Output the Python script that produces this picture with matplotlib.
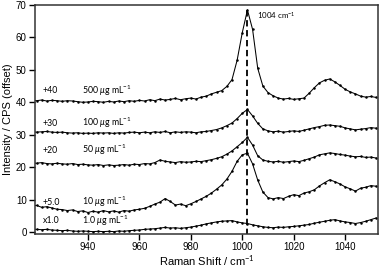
import matplotlib
matplotlib.use("Agg")
import matplotlib.pyplot as plt

# Raman shift grid (cm-1)
shift = [918, 920, 922, 924, 926, 928, 930, 932, 934, 936, 938, 940,
         942, 944, 946, 948, 950, 952, 954, 956, 958, 960, 962, 964,
         966, 968, 970, 972, 974, 976, 978, 980, 982, 984, 986, 988,
         990, 992, 994, 996, 998, 1000, 1002, 1004, 1006, 1008, 1010, 1012,
         1014, 1016, 1018, 1020, 1022, 1024, 1026, 1028, 1030, 1032, 1034, 1036,
         1038, 1040, 1042, 1044, 1046, 1048, 1050, 1052]

# spectra already offset as in the figure
c500 = [40.6, 40.5, 40.7, 40.4, 40.6, 40.5, 40.3, 40.5, 40.4, 40.2, 40.0, 40.1,
        40.3, 40.2, 40.0, 40.3, 40.1, 40.4, 40.2, 40.5, 40.3, 40.6, 40.4, 40.8,
        40.5, 41.0, 40.7, 40.9, 41.2, 40.8, 41.1, 41.3, 41.0, 41.6, 41.9, 42.6,
        43.1, 43.6, 44.9, 47.0, 53.0, 61.5, 68.5, 62.5, 50.5, 45.0, 43.0, 42.0,
        41.3, 41.0, 41.2, 40.9, 41.1, 41.3, 42.8, 44.5, 46.0, 46.8, 47.2, 46.3,
        45.2, 44.0, 43.2, 42.6, 41.9, 41.6, 41.8, 41.5]
c100 = [30.9, 30.8, 30.9, 31.0, 30.8, 30.7, 30.8, 30.6, 30.5, 30.6, 30.4, 30.5,
        30.4, 30.6, 30.5, 30.6, 30.4, 30.6, 30.5, 30.7, 30.8, 30.6, 30.8, 30.6,
        30.9, 30.7, 31.0, 30.6, 30.9, 30.7, 30.9, 30.8, 30.6, 30.9, 31.0, 31.3,
        31.6, 32.1, 32.8, 33.6, 35.0, 36.6, 37.8, 35.8, 33.5, 31.8, 31.2, 30.9,
        31.1, 30.8, 31.0, 31.2, 31.0, 31.4, 31.8, 32.2, 32.5, 32.9, 33.0, 32.8,
        32.6, 32.1, 31.8, 31.5, 31.7, 31.9, 32.2, 32.0]
c50 = [21.3, 21.2, 21.4, 21.1, 21.0, 21.2, 21.0, 20.9, 21.1, 20.8, 20.9, 20.7,
       20.6, 20.8, 20.5, 20.7, 20.5, 20.6, 20.8, 20.6, 20.9, 20.8, 21.1, 21.0,
       21.4, 22.2, 21.8, 21.6, 21.4, 21.7, 21.5, 21.6, 21.8, 21.7, 22.0, 22.3,
       22.7, 23.2, 24.0, 25.0, 26.3, 27.6, 29.2, 26.8, 23.5, 22.2, 21.8, 21.6,
       21.8, 21.5, 21.7, 21.9, 21.7, 22.1, 22.6, 23.1, 23.8, 24.1, 24.4, 24.2,
       23.9, 23.7, 23.4, 23.2, 23.3, 23.0, 23.1, 22.8]
c10 = [8.0, 8.2, 7.6, 7.8, 7.4, 7.0, 6.9, 6.6, 6.8, 6.3, 6.5, 6.0,
       6.4, 6.1, 6.6, 6.2, 6.5, 6.1, 6.6, 6.4, 6.8, 7.0, 7.3, 7.9,
       8.6, 9.2, 10.3, 9.4, 8.3, 8.6, 8.1, 8.7, 9.4, 10.2, 11.0, 12.0,
       13.2, 14.5, 16.3, 18.7, 21.8, 23.8, 24.3, 21.0, 16.0, 12.3, 10.6, 10.2,
       10.6, 10.3, 11.0, 11.5, 11.2, 12.0, 12.4, 13.0, 14.2, 15.2, 16.1, 15.5,
       14.8, 13.9, 13.3, 12.6, 13.5, 13.8, 14.3, 14.1]
c1 = [0.9, 0.8, 0.7, 0.8, 0.6, 0.5, 0.4, 0.5, 0.3, 0.2, 0.3, 0.2,
      0.1, 0.2, 0.1, 0.2, 0.1, 0.3, 0.2, 0.4, 0.5, 0.6, 0.8, 0.9,
      1.0, 1.2, 1.4, 1.2, 1.3, 1.1, 1.3, 1.5, 1.8, 2.1, 2.5, 2.8,
      3.1, 3.3, 3.4, 3.5, 3.1, 2.8, 2.6, 2.2, 1.9, 1.6, 1.4, 1.3,
      1.5, 1.4, 1.6, 1.7, 1.9, 2.1, 2.3, 2.7, 3.0, 3.3, 3.6, 3.8,
      3.4, 3.1, 2.9, 2.6, 2.9, 3.3, 3.8, 4.3]

spectra = [c500, c100, c50, c10, c1]
offset_labels = ['+40', '+30', '+20', '+5.0', 'x1.0']
conc_labels = [r'500 $\mu$g mL$^{-1}$', r'100 $\mu$g mL$^{-1}$', r'50 $\mu$g mL$^{-1}$',
               r'10 $\mu$g mL$^{-1}$', r'1.0 $\mu$g mL$^{-1}$']
label_y = [43.6, 33.6, 25.2, 9.2, 3.4]
peak_pos = 1002
peak_top = 68.5

plt.rcParams['font.family'] = ['Liberation Sans', 'DejaVu Sans']
plt.rcParams['mathtext.fontset'] = 'custom'
plt.rcParams['mathtext.rm'] = 'Lato'
plt.rcParams['mathtext.it'] = 'Lato:italic'

fig = plt.figure(figsize=(3.8, 2.67), dpi=100)
ax = fig.add_axes([0.092, 0.124, 0.903, 0.857])

for s in spectra:
    ax.plot(shift, s, color='black', lw=0.75, marker='o', ms=0.8)

ax.plot([peak_pos, peak_pos], [-1, peak_top], color='black', lw=1.3,
        ls=(0, (3.5, 2)))

for oy, ol, cl in zip(label_y, offset_labels, conc_labels):
    ax.text(922.5, oy, ol, fontsize=6.3, family='Lato', va='center')
    ax.text(937.5, oy, cl, fontsize=6.3, family='Lato', va='center')

ax.text(1005.8, 66.9, r'1004 cm$^{-1}$', fontsize=5.7, family='Lato', va='center')

ax.set_xlim(919.4, 1052.8)
ax.set_ylim(-0.6, 70)
ax.set_xticks([940, 960, 980, 1000, 1020, 1040])
ax.set_yticks([0, 10, 20, 30, 40, 50, 60, 70])
ax.tick_params(direction='out', length=4, width=1, labelsize=7, pad=2)
for sp in ax.spines.values():
    sp.set_linewidth(1.1)
    sp.set_color('#333333')

ax.set_xlabel(r'Raman Shift / cm$^{-1}$', fontsize=8, labelpad=1)
ax.set_ylabel('Intensity / CPS (offset)', fontsize=8, labelpad=2)

fig.savefig('out.png', dpi=100)
